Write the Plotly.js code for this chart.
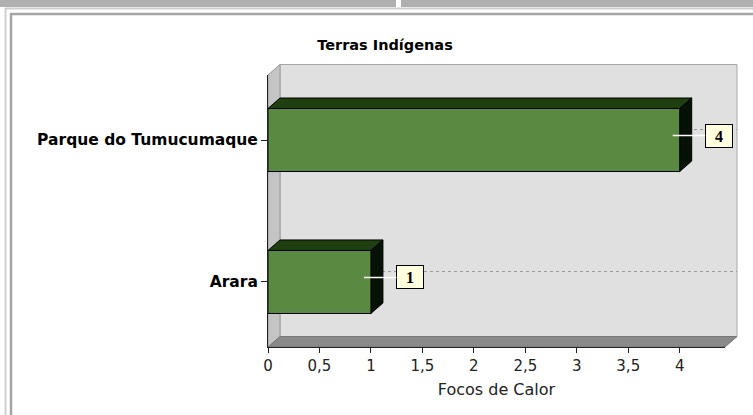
<!DOCTYPE html>
<html>
<head>
<meta charset="utf-8">
<script src="https://cdn.plot.ly/plotly-3.0.1.min.js"></script>
<style>html,body{margin:0;padding:0;background:#fff;}#chart{width:753px;height:415px;}</style>
</head>
<body>
<div id="chart"></div>
<script>
// ---- data ----
const categories = ['Arara', 'Parque do Tumucumaque'];
const values = [1, 4];
const chartTitle = 'Terras Indígenas';
const xTitle = 'Focos de Calor';
const xTickVals = [0, 0.5, 1, 1.5, 2, 2.5, 3, 3.5, 4];

// ---- geometry ----
const W = 753, H = 415;
const M = {l: 268, r: 28, t: 75, b: 68};
const plotW = W - M.l - M.r, plotH = H - M.t - M.b;
const xRange = [0, 4.44];
const yRange = [-0.458, 1.458];
const barW = 0.444;
const depthX = 12 / plotW, depthY = 10.5 / plotH;

const xp = v => (v - xRange[0]) / (xRange[1] - xRange[0]);
const yp = v => (v - yRange[0]) / (yRange[1] - yRange[0]);
const fx = px => (px - M.l) / plotW;
const fy = py => (H - M.b - py) / plotH;

const shapes = [];
const P = (pts) => 'M' + pts.map(p => p[0] + ',' + p[1]).join(' L') + ' Z';

// page frame decoration
shapes.push({type:'rect', xref:'paper', yref:'paper', x0:fx(0), x1:fx(396), y0:fy(0), y1:fy(7), fillcolor:'#b0b0b0', line:{width:0}, layer:'below'});
shapes.push({type:'rect', xref:'paper', yref:'paper', x0:fx(401), x1:fx(753), y0:fy(0), y1:fy(7), fillcolor:'#b0b0b0', line:{width:0}, layer:'below'});
shapes.push({type:'line', xref:'paper', yref:'paper', x0:fx(5), x1:fx(753), y0:fy(8.5), y1:fy(8.5), line:{color:'#cfcfcf', width:2}, layer:'below'});
shapes.push({type:'line', xref:'paper', yref:'paper', x0:fx(10), x1:fx(753), y0:fy(14), y1:fy(14), line:{color:'#a4a4a4', width:2.5}, layer:'below'});
shapes.push({type:'line', xref:'paper', yref:'paper', x0:fx(5.5), x1:fx(5.5), y0:fy(8), y1:fy(415), line:{color:'#cfcfcf', width:2}, layer:'below'});
shapes.push({type:'line', xref:'paper', yref:'paper', x0:fx(11), x1:fx(11), y0:fy(13), y1:fy(415), line:{color:'#a4a4a4', width:2.5}, layer:'below'});

// back wall
shapes.push({type:'rect', xref:'paper', yref:'paper', x0:depthX, x1:1 + depthX, y0:depthY, y1:1 + depthY, fillcolor:'#e0e0e0', line:{color:'#a8a8a8', width:1}, layer:'below'});
// left wall
shapes.push({type:'path', xref:'paper', yref:'paper', path:P([[0,0],[depthX,depthY],[depthX,1+depthY],[0,1]]), fillcolor:'#c4c4c4', line:{color:'#9a9a9a', width:1}, layer:'below'});
// floor
shapes.push({type:'path', xref:'paper', yref:'paper', path:P([[0,0],[1,0],[1+depthX,depthY],[depthX,depthY]]), fillcolor:'#8a8a8a', line:{color:'#777', width:1}, layer:'below'});

// dotted gridlines on back wall
categories.forEach((c, i) => {
  const y = yp(i) + depthY;
  shapes.push({type:'line', xref:'paper', yref:'paper', x0:depthX, x1:1 + depthX, y0:y, y1:y, line:{color:'#9a9a9a', width:1, dash:'dot'}, layer:'below'});
});

// 3D faces of bars
values.forEach((v, i) => {
  const top = yp(i + barW / 2), bot = yp(i - barW / 2);
  const x0 = xp(0), x1 = xp(v);
  shapes.push({type:'path', xref:'paper', yref:'paper', path:P([[x0,top],[x0+depthX,top+depthY],[x1+depthX,top+depthY],[x1,top]]), fillcolor:'#1f3f10', line:{color:'#000', width:1}, layer:'below'});
  shapes.push({type:'path', xref:'paper', yref:'paper', path:P([[x1,top],[x1+depthX,top+depthY],[x1+depthX,bot+depthY],[x1,bot]]), fillcolor:'#061206', line:{color:'#000', width:1}, layer:'below'});
});

// value labels
const annotations = values.map((v, i) => ({
  x: v, y: categories[i], xref:'x', yref:'y',
  text: String(v), showarrow: true, arrowhead: 0, arrowwidth: 1.5, arrowcolor: '#ffffff',
  ax: 46, ay: 0, xshift: -7, yshift: 4.5,
  bgcolor: '#ffffe0', bordercolor: '#000', borderwidth: 1, borderpad: 2,
  width: 22, height: 18,
  font: {family: 'Liberation Serif, serif', size: 16, color: '#000', weight: 'bold'}
}));

const trace = {
  type: 'bar', orientation: 'h',
  x: values, y: categories, width: barW,
  marker: {color: '#5a8a42', line: {color: '#000', width: 1}},
  hoverinfo: 'skip'
};

const layout = {
  width: W, height: H,
  margin: {l: M.l, r: M.r, t: M.t, b: M.b, pad: 0},
  paper_bgcolor: 'rgba(0,0,0,0)', plot_bgcolor: 'rgba(0,0,0,0)',
  separators: ',.',
  showlegend: false,
  title: {text: chartTitle, xref: 'container', yref: 'container', x: 385 / W, xanchor: 'center', y: 1 - 45 / H, yanchor: 'middle',
          font: {family: 'DejaVu Sans', size: 14.5, color: '#000', weight: 'bold'}},
  xaxis: {range: xRange, tickvals: xTickVals, showgrid: false, zeroline: false,
          showline: true, linecolor: '#222', linewidth: 1, ticks: 'outside', ticklen: 5, tickcolor: '#222',
          tickfont: {family: 'DejaVu Sans', size: 15, color: '#222'},
          title: {text: xTitle, standoff: 9, font: {family: 'DejaVu Sans', size: 16, color: '#222'}}},
  yaxis: {type: 'category', categoryorder: 'array', categoryarray: categories, range: yRange,
          showgrid: false, zeroline: false, showline: true, linecolor: '#222', linewidth: 1,
          ticks: 'outside', ticklen: 6, tickcolor: '#222',
          tickfont: {family: 'DejaVu Sans', size: 15.5, color: '#000', weight: 'bold'}},
  shapes: shapes,
  annotations: annotations
};

Plotly.newPlot('chart', [trace], layout, {displayModeBar: false, staticPlot: true});
</script>
</body>
</html>
